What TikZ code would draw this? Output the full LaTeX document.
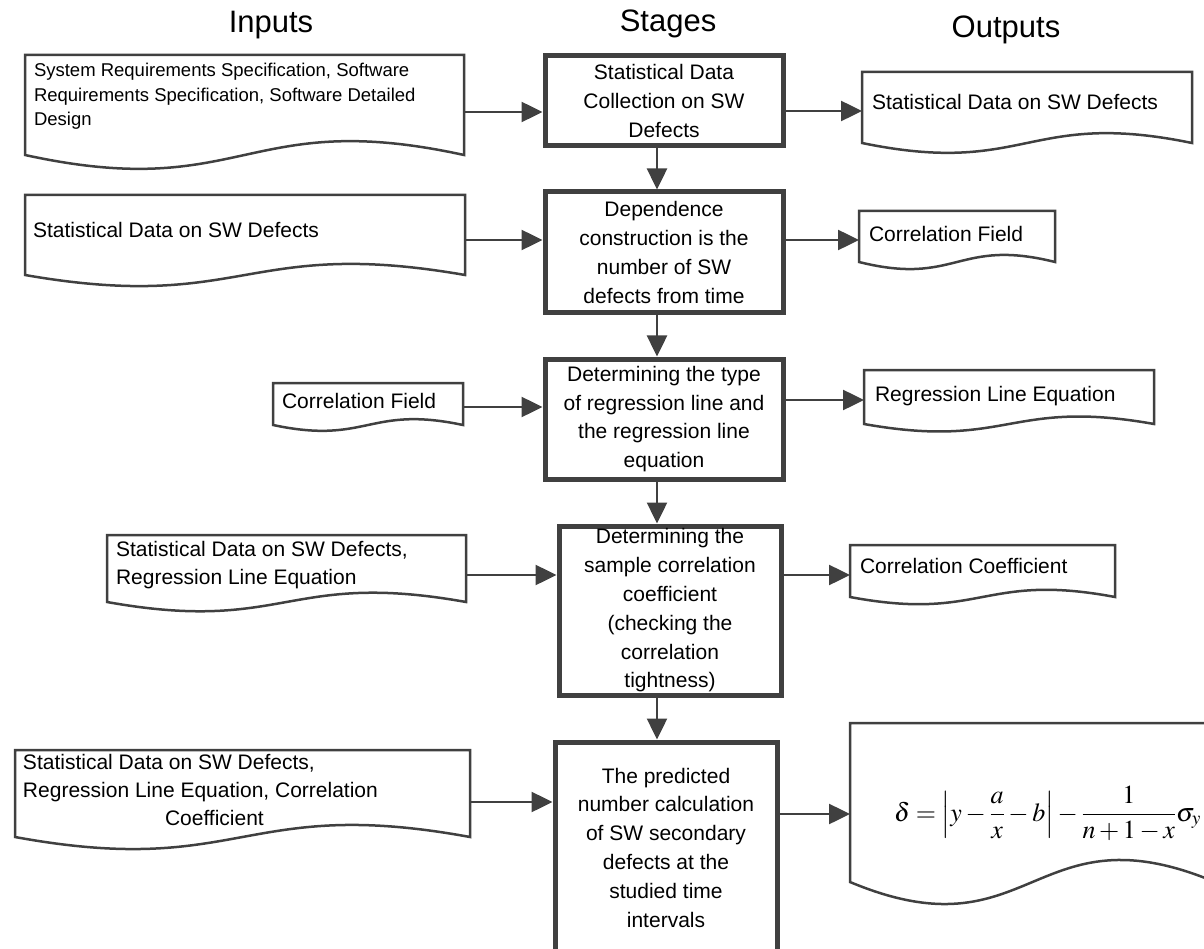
\documentclass[tikz,border=0pt]{standalone}
\usepackage{mathptmx}
\usepackage{fontspec}
\newfontfamily\arialfont{Liberation Sans}
\usetikzlibrary{arrows.meta, calc}
\definecolor{linegray}{RGB}{64,64,64}

\newcommand{\docfont}{\arialfont\fontsize{21}{28}\selectfont}
\newcommand{\smalldocfont}{\arialfont\fontsize{18.5}{24.5}\selectfont}
\newcommand{\stagefont}{\arialfont\fontsize{21}{28.8}\selectfont}
\newcommand{\titlefont}{\arialfont\fontsize{31}{36}\selectfont}

% width, height, top pad, left pad, text
\newcommand{\docbox}[5]{%
  \parbox[t][#2][t]{#1}{\raggedright\leftskip=#4\relax\vspace*{#3}#5}}

% outline of a document node, wavy bottom
\newcommand{\docline}[1]{%
  \draw[docedge] let \p1=($(#1.north)-(#1.south)$) in
    (#1.south west) .. controls ($(#1.south)+(0pt,-0.48*\y1)$)
    and ($(#1.south)+(0pt,0.48*\y1)$) .. (#1.south east)
    -- (#1.north east) -- (#1.north west) -- cycle;}

\begin{document}
\begin{tikzpicture}[x=1pt, y=-1pt,
        stage/.style={draw=linegray, line width=5pt, inner sep=0pt,
                      align=center, font=\stagefont},
        doc/.style={inner sep=0pt, outer sep=0pt, anchor=north west,
                    font=\docfont},
        docedge/.style={draw=linegray, line width=2.5pt, line join=miter},
        title/.style={anchor=base, font=\titlefont},
        arr/.style={draw=linegray, line width=2.5pt,
                    -{Triangle[length=21pt,width=20pt]}}]
    \useasboundingbox (0,0) rectangle (1204,949);

    % column titles
    \node[title] (tin) at (271,33) {Inputs};
    \node[title] (tst) at (668,32) {Stages};
    \node[title] (tout) at (1006,38) {Outputs};

    % stages
    \node[stage, minimum width=238pt, minimum height=90pt] (s1) at (664,101)
        {Statistical Data\\Collection on SW\\Defects};
    \node[stage, minimum width=238pt, minimum height=121pt] (s2) at (664,252.5)
        {Dependence\\construction is the\\number of SW\\defects from time};
    \node[stage, minimum width=238pt, minimum height=120pt] (s3) at (664,419)
        {Determining the type\\of regression line and\\the regression line\\equation};
    \node[stage, minimum width=222pt, minimum height=169pt] (s4) at (670,610.5)
        {Determining the\\sample correlation\\coefficient\\(checking the\\correlation\\tightness)};
    \node[stage, minimum width=222pt, minimum height=211pt] (s5) at (666,847.5)
        {The predicted\\number calculation\\of SW secondary\\defects at the\\studied time\\intervals};

    % inputs
    \node[doc] (in1) at (25,55) {\docbox{439pt}{100pt}{8.5pt}{9pt}{\smalldocfont
        System Requirements Specification, Software\\
        Requirements Specification, Software Detailed\\Design}};
    \node[doc] (in2) at (25,195) {\docbox{440pt}{80pt}{27.7pt}{8pt}{Statistical Data on SW Defects}};
    \node[doc] (in3) at (273,383) {\docbox{190pt}{42pt}{10.7pt}{9pt}{Correlation Field}};
    \node[doc] (in4) at (107,535) {\docbox{359pt}{67pt}{6.7pt}{9pt}{Statistical Data on SW Defects,\\
        Regression Line Equation}};
    \node[doc] (in5) at (15,750) {\docbox{455pt}{87pt}{4.7pt}{8pt}{Statistical Data on SW Defects,\\
        Regression Line Equation, Correlation\\\hspace*{142pt}Coefficient}};

    % outputs
    \node[doc] (out1) at (862,72) {\docbox{330pt}{71pt}{22.7pt}{10pt}{Statistical Data on SW Defects}};
    \node[doc] (out2) at (859,211) {\docbox{196pt}{51pt}{15.7pt}{10pt}{Correlation Field}};
    \node[doc] (out3) at (864,370) {\docbox{290pt}{54pt}{16.7pt}{11pt}{Regression Line Equation}};
    \node[doc] (out4) at (850,545) {\docbox{265pt}{52pt}{13.7pt}{10pt}{Correlation Coefficient}};
    \node[doc] (out5) at (850,723) {\docbox{365pt}{159pt}{63pt}{44pt}{\fontsize{26}{30}\selectfont
        $\displaystyle\delta=\left|y-\frac{a}{x}-b\right|-\frac{1}{n+1-x}\sigma_y$}};

    \docline{in1} \docline{in2} \docline{in3} \docline{in4} \docline{in5}
    \docline{out1} \docline{out2} \docline{out3} \docline{out4} \docline{out5}

    % arrow heights
    \coordinate (sp) at (657,0);
    \coordinate (i1) at (0,112); \coordinate (o1) at (0,111);
    \coordinate (i2) at (0,240); \coordinate (o2) at (0,240);
    \coordinate (i3) at (0,407); \coordinate (o3) at (0,400);
    \coordinate (i4) at (0,575); \coordinate (o4) at (0,575);
    \coordinate (i5) at (0,802); \coordinate (o5) at (0,814);

    \draw[arr] (s1.south -| sp) -- (s2.north -| sp);
    \draw[arr] (s2.south -| sp) -- (s3.north -| sp);
    \draw[arr] (s3.south -| sp) -- (s4.north -| sp);
    \draw[arr] (s4.south -| sp) -- (s5.north -| sp);

    \draw[arr] (in1.east |- i1) -- (s1.west |- i1);
    \draw[arr] (in2.east |- i2) -- (s2.west |- i2);
    \draw[arr] (in3.east |- i3) -- (s3.west |- i3);
    \draw[arr] (in4.east |- i4) -- (s4.west |- i4);
    \draw[arr] (in5.east |- i5) -- (s5.west |- i5);

    \draw[arr] (s1.east |- o1) -- (out1.west |- o1);
    \draw[arr] (s2.east |- o2) -- (out2.west |- o2);
    \draw[arr] (s3.east |- o3) -- (out3.west |- o3);
    \draw[arr] (s4.east |- o4) -- (out4.west |- o4);
    \draw[arr] (s5.east |- o5) -- (out5.west |- o5);
\end{tikzpicture}
\end{document}
